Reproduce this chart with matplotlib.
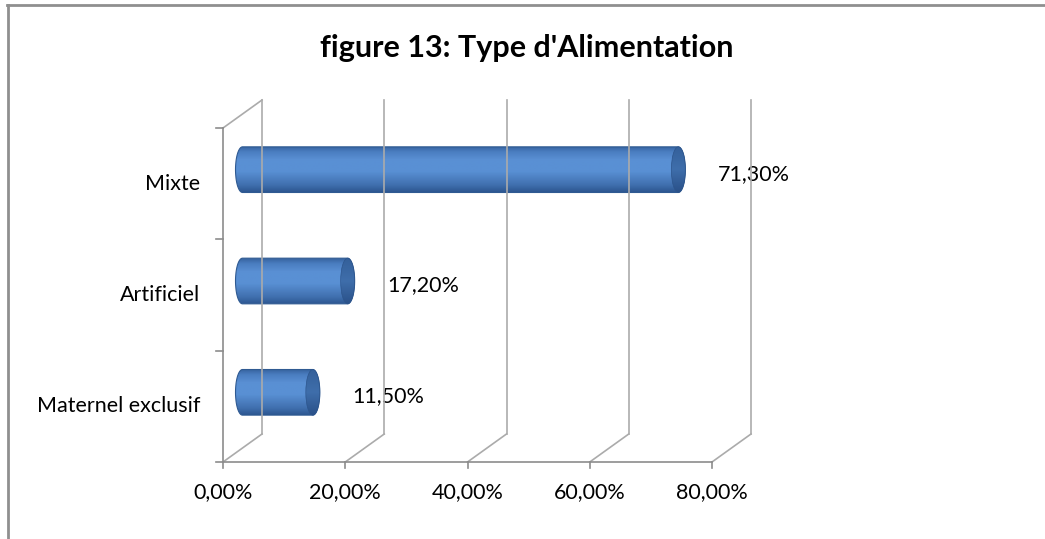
import numpy as np
import matplotlib
matplotlib.use("Agg")
import matplotlib.pyplot as plt
from matplotlib.path import Path
from matplotlib.patches import PathPatch, Ellipse
from matplotlib.transforms import ScaledTranslation
from matplotlib.colors import LinearSegmentedColormap
from matplotlib.lines import Line2D

categories = ["Mixte", "Artificiel", "Maternel exclusif"]
values = [71.3, 17.2, 11.5]
value_labels = ["71,30%", "17,20%", "11,50%"]
xticks = [0, 20, 40, 60, 80]
xtick_labels = ["0,00%", "20,00%", "40,00%", "60,00%", "80,00%"]
title = "figure 13: Type d'Alimentation"

FONT = "Lato"
W, H, DPI = 1045, 539, 100
fig = plt.figure(figsize=(W / DPI, H / DPI), dpi=DPI)
fig.patch.set_facecolor("white")

# front plane of the 3D box, in pixels
fl, fr, ftop, fbot = 223, 712, 128, 462
ax = fig.add_axes([fl / W, (H - fbot) / H, (fr - fl) / W, (fbot - ftop) / H])
ax.set_xlim(0, 80)
n = len(categories)
ax.set_ylim(0, n)
ax.axis("off")

DX, DY = 39, 28  # depth offset in pixels (display coords)
t_front = ax.transData
t_back = ax.transData + ScaledTranslation(DX / DPI, DY / DPI, fig.dpi_scale_trans)
t_mid = ax.transData + ScaledTranslation(DX / 2 / DPI, DY / 2 / DPI, fig.dpi_scale_trans)

grid_c = "#ababab"
axis_c = "#8c8c8c"
inv = fig.transFigure.inverted()

def seg(x0, y0, x1, y1, tr0, tr1, color, lw=1.0):
    q0 = inv.transform(tr0.transform((x0, y0)))
    q1 = inv.transform(tr1.transform((x1, y1)))
    fig.add_artist(Line2D([q0[0], q1[0]], [q0[1], q1[1]], color=color, lw=lw,
                          transform=fig.transFigure, zorder=1))

# back gridlines and floor diagonals
for xv in xticks:
    seg(xv, 0, xv, n, t_back, t_back, grid_c, 1.2)
    seg(xv, 0, xv, 0, t_front, t_back, grid_c, 1.2)
# left wall
seg(0, n, 0, n, t_front, t_back, grid_c, 1.2)
seg(0, 0, 0, n, t_front, t_front, axis_c, 1.2)
seg(0, 0, 80, 0, t_front, t_front, axis_c, 1.2)

# ticks
for xv in xticks:
    p = t_front.transform((xv, 0))
    a = inv.transform(p)
    b = inv.transform((p[0], p[1] - 6))
    fig.add_artist(Line2D([a[0], b[0]], [a[1], b[1]], color=axis_c, lw=1.2))
for yv in range(n + 1):
    p = t_front.transform((0, yv))
    a = inv.transform(p)
    b = inv.transform((p[0] - 7, p[1]))
    fig.add_artist(Line2D([a[0], b[0]], [a[1], b[1]], color=axis_c, lw=1.2))

FS = 15.5
for xv, lab in zip(xticks, xtick_labels):
    ax.text(xv, 0, lab, transform=t_front + ScaledTranslation(0, -30 / DPI, fig.dpi_scale_trans),
            ha="center", va="center", fontsize=FS, family=FONT, color="black", clip_on=False)

for i, cat in enumerate(categories):
    yc = n - 1 - i + 0.5
    ax.text(0, yc, cat, transform=t_front + ScaledTranslation(-23 / DPI, 0, fig.dpi_scale_trans),
            ha="right", va="center", fontsize=FS, family=FONT, color="black", clip_on=False)

# cylinders
body_cmap = LinearSegmentedColormap.from_list(
    "body", [(0.0, "#2c5690"), (0.15, "#406fae"), (0.45, "#5990d4"),
             (0.7, "#5a90d4"), (0.88, "#4a7dc0"), (1.0, "#35619d")])
cap_cmap = LinearSegmentedColormap.from_list(
    "cap", [(0.0, "#2a5189"), (0.5, "#3f6eab"), (1.0, "#34609a")])

bar_h = 0.41
ax_px_per_unit = (fr - fl) / 80.0
ea = 7.0 / ax_px_per_unit  # ellipse half width in data units
grad = np.linspace(0, 1, 256).reshape(-1, 1)

for i, v in enumerate(values):
    yc = n - 1 - i + 0.5
    b = bar_h / 2
    th1 = np.linspace(-np.pi / 2, np.pi / 2, 60)
    th2 = np.linspace(np.pi / 2, 3 * np.pi / 2, 60)
    xs = np.concatenate([v + ea * np.cos(th1), 0 + ea * np.cos(th2)])
    ys = np.concatenate([yc + b * np.sin(th1), yc + b * np.sin(th2)])
    verts = np.column_stack([xs, ys])
    verts = np.vstack([verts, verts[:1]])
    codes = [Path.MOVETO] + [Path.LINETO] * (len(verts) - 2) + [Path.CLOSEPOLY]
    path = Path(verts, codes)
    patch = PathPatch(path, facecolor="none", edgecolor="#2f5a92", lw=0.8,
                      transform=t_mid, zorder=4, clip_on=False)
    ax.add_patch(patch)
    im = ax.imshow(grad, cmap=body_cmap, aspect="auto", origin="lower",
                   extent=[-ea, v + ea, yc - b, yc + b], zorder=3,
                   interpolation="bilinear")
    im.set_transform(t_mid)
    im.set_clip_path(patch)
    cap = Ellipse((v, yc), 2 * ea, 2 * b, transform=t_mid, facecolor="none",
                  edgecolor="#2d558c", lw=0.5, zorder=6, clip_on=False)
    ax.add_patch(cap)
    im2 = ax.imshow(grad, cmap=cap_cmap, aspect="auto", origin="lower",
                    extent=[v - ea, v + ea, yc - b, yc + b], zorder=5,
                    interpolation="bilinear")
    im2.set_transform(t_mid)
    im2.set_clip_path(cap)

    ax.text(v, yc, value_labels[i],
            transform=t_mid + ScaledTranslation(40 / DPI, -4 / DPI, fig.dpi_scale_trans),
            ha="left", va="center", fontsize=FS, family=FONT, color="black",
            clip_on=False, zorder=7)

ax.set_xlim(0, 80)
ax.set_ylim(0, n)

fig.text(527 / W, 1 - 48 / H, title, ha="center", va="center", fontsize=22,
         fontweight="bold", family=FONT, color="black")

# chart border (top and left visible)
fig.add_artist(Line2D([7 / W, 1], [1 - 4.5 / H, 1 - 4.5 / H], color="#8f8f8f", lw=2,
                      transform=fig.transFigure))
fig.add_artist(Line2D([7.5 / W, 7.5 / W], [0, 1 - 4.5 / H], color="#8f8f8f", lw=2,
                      transform=fig.transFigure))

fig.savefig("out.png", dpi=DPI, facecolor="white")
